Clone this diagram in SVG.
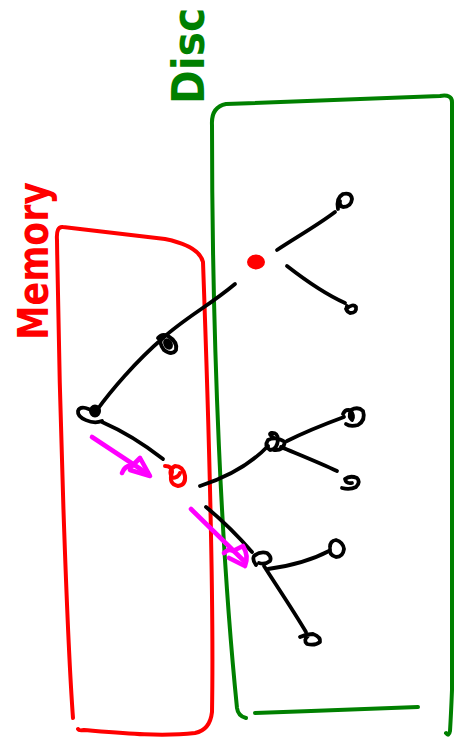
<svg xmlns="http://www.w3.org/2000/svg" width="459" height="748" viewBox="0 0 459 748">
  <style>
    path { fill: none; stroke-linecap: round; stroke-linejoin: round; }
    .ink { stroke: #000; stroke-width: 3.8; }
    .red { stroke: #ff0000; stroke-width: 4; }
    .green { stroke: #008000; stroke-width: 4; }
    .pink { stroke: #ff00ff; stroke-width: 4.6; }
    .blob-k { fill: #000; stroke: #000; stroke-width: 2; }
    .blob-r { fill: #ff0000; stroke: #ff0000; stroke-width: 2; }
    .hand { font-family: "DejaVu Sans", "Liberation Sans", sans-serif; font-weight: bold; }
  </style>

  <!-- disc region (green frame) -->
  <g id="disc">
    <path class="green" d="M 246,718 Q 238,716 237,708 C 222,560 212,350 212,125 Q 211,107 226,104 L 440,96 Q 452,94 452,102 L 452,690 Q 451,715 450,731 Q 449,737 446,733"/>
    <path class="green" d="M 255,713 C 310,711 370,709 418,707"/>
    <text class="hand" transform="translate(204,104) rotate(-90)" font-size="44" fill="#008000" textLength="96" lengthAdjust="spacingAndGlyphs">Disc</text>
  </g>

  <!-- memory region (red frame) -->
  <g id="memory">
    <path class="red" d="M 73,718 C 68,650 60,450 57,240 Q 56,226 63,227 L 165,239 Q 199,246 203,262 C 208,400 214,600 212,712 Q 210,730 195,733 C 160,737 120,733 84,730 Q 79,731 78,729"/>
    <text class="hand" transform="translate(48,340) rotate(-90)" font-size="42" fill="#ff0000" textLength="158" lengthAdjust="spacingAndGlyphs">Memory</text>
  </g>

  <!-- tree edges -->
  <g id="connectors">
    <path class="ink" d="M 277,250 C 295,238 318,225 335,212"/>
    <path class="ink" d="M 287,266 C 305,280 325,294 345,303"/>
    <path class="ink" d="M 235,284 C 210,305 185,318 163,338 C 135,362 110,392 97,410"/>
    <path class="ink" d="M 102,422 C 125,432 145,445 163,459"/>
    <path class="ink" d="M 200,486 C 225,478 250,465 268,446"/>
    <path class="ink" d="M 287,441 C 305,432 325,424 344,417"/>
    <path class="ink" d="M 281,447 C 300,455 320,463 337,471"/>
    <path class="ink" d="M 206,507 C 222,520 238,536 252,552"/>
    <path class="ink" d="M 268,569 C 290,566 312,560 329,551"/>
    <path class="ink" d="M 264,566 C 278,588 293,610 306,632"/>
    <!-- moves between memory and disc -->
    <path class="pink" d="M 92,437 L 148,474"/>
    <path class="pink" d="M 122,473 Q 125,465 132,466 L 140,458 L 150,476 L 130,470"/>
    <path class="pink" d="M 191,509 L 244,561"/>
    <path class="pink" d="M 224,553 Q 229,548 233,551 L 243,546 Q 249,556 245,566 L 229,558"/>
  </g>

  <!-- tree nodes -->
  <g id="n-root">
    <ellipse class="blob-r" cx="256" cy="262" rx="8" ry="6.5"/>
  </g>
  <g id="n-root-a">
    <path class="ink" d="M 338,209 Q 336,198 343,194 Q 351,192 352,199 Q 351,207 343,207 Q 339,206 340,201"/>
  </g>
  <g id="n-root-b">
    <path class="ink" d="M 346,309 Q 353,303 356,307 Q 357,313 350,313 Q 345,311 347,306"/>
  </g>
  <g id="n-mid">
    <path class="ink" d="M 158,338 Q 162,333 168,336 Q 178,342 176,350 Q 172,356 164,350 Q 158,342 162,337"/>
    <ellipse class="blob-k" cx="168" cy="344" rx="3.5" ry="5" transform="rotate(-30 168 344)"/>
  </g>
  <g id="n-left">
    <path class="ink" d="M 102,421 C 92,425 77,418 78,411 C 80,405 90,408 97,414"/>
    <ellipse class="blob-k" cx="95" cy="411" rx="5" ry="5.5"/>
  </g>
  <g id="n-cur">
    <path class="red" d="M 165,466 Q 172,466 172,472 Q 168,484 178,486 Q 186,485 185,476 Q 183,466 175,466 Q 168,470 172,478 Q 178,478 180,473"/>
  </g>
  <g id="n-disc1">
    <path class="ink" d="M 274,438 Q 268,434 271,433 Q 278,432 278,440 Q 277,450 270,450 Q 264,446 268,440 Q 276,436 285,442 Q 283,451 274,450"/>
  </g>
  <g id="n-disc1-a">
    <path class="ink" d="M 343,414 Q 345,409 350,410 Q 355,416 352,420 Q 348,417 351,410 Q 358,406 363,411 Q 366,420 358,425 Q 350,427 346,424"/>
  </g>
  <g id="n-disc1-b">
    <path class="ink" d="M 342,488 Q 350,490 356,487 Q 361,482 357,478 Q 350,475 345,479 Q 346,484 352,483"/>
  </g>
  <g id="n-disc2">
    <path class="ink" d="M 256,565 Q 252,560 254,556 Q 260,551 267,553 Q 272,557 270,561 Q 265,565 259,563"/>
  </g>
  <g id="n-disc2-a">
    <path class="ink" d="M 330,547 Q 330,541 336,540 Q 343,542 344,549 Q 343,557 336,557 Q 329,555 330,549"/>
  </g>
  <g id="n-disc2-b">
    <path class="ink" d="M 300,637 Q 306,634 313,634 Q 321,637 320,642 Q 315,646 307,644 Q 303,640 308,636"/>
  </g>
</svg>
